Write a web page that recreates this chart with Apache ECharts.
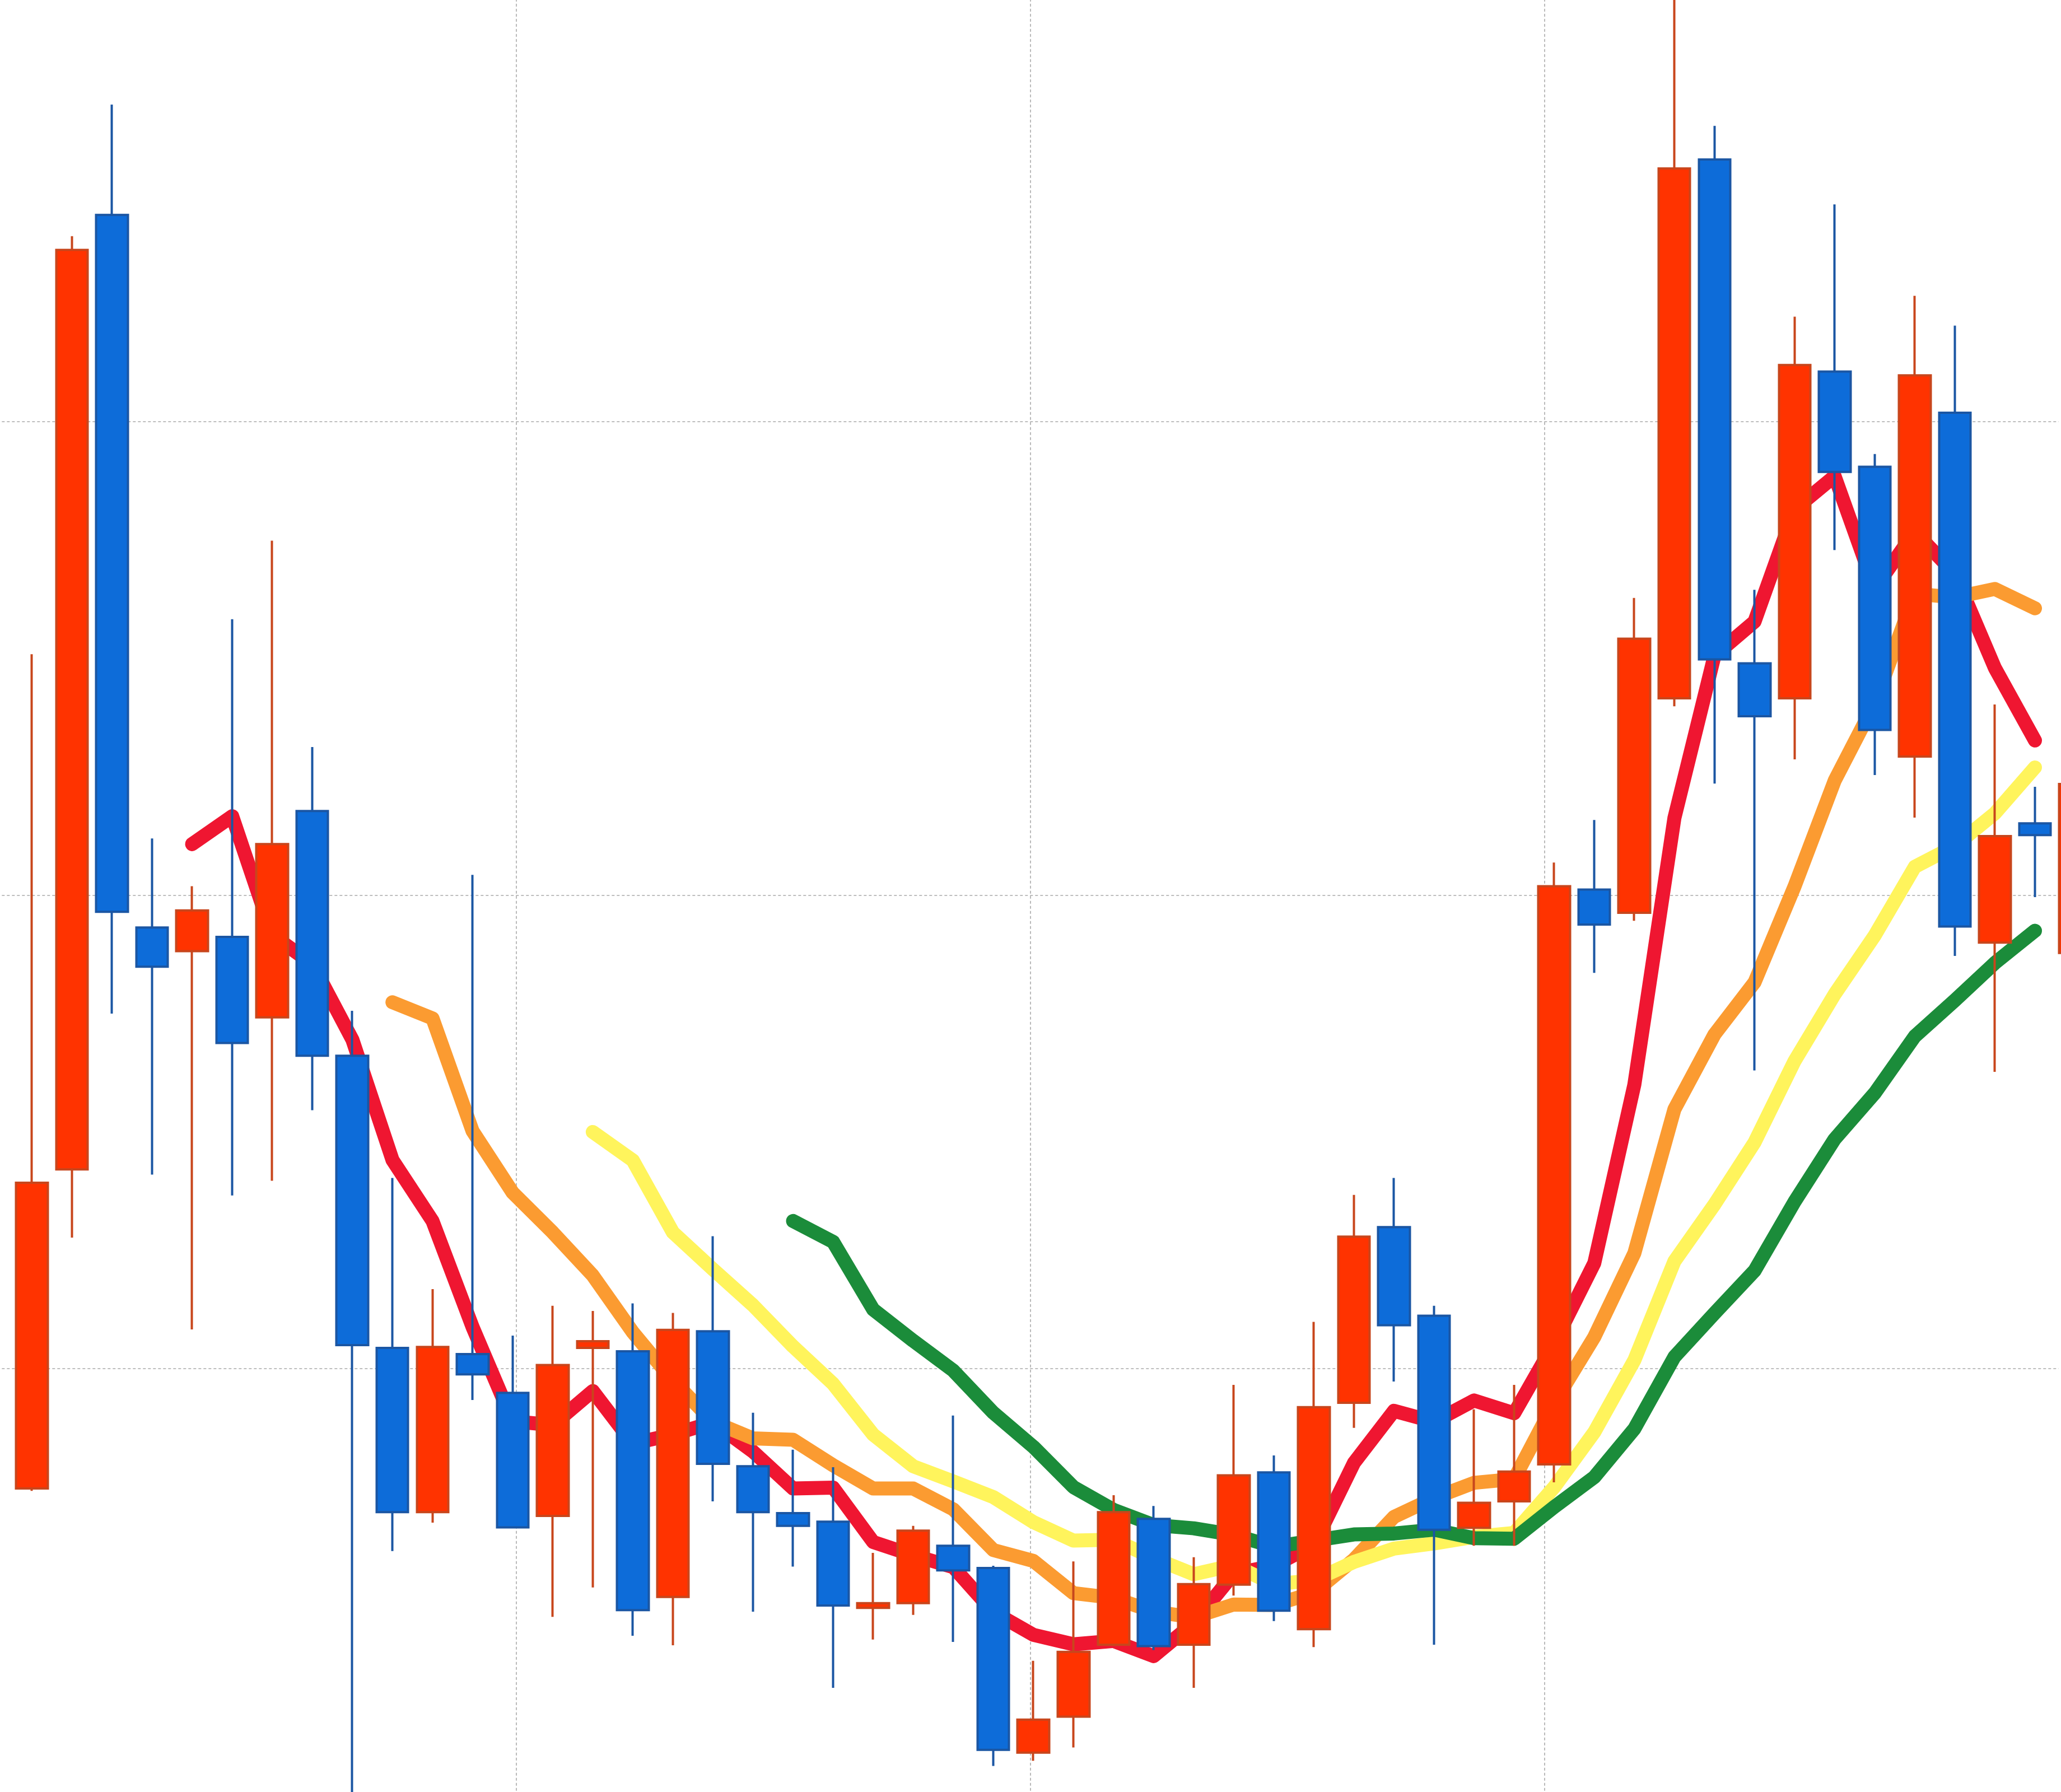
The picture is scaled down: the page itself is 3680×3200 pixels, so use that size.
<!DOCTYPE html>
<html>
<head>
<meta charset="utf-8">
<script src="https://cdn.jsdelivr.net/npm/echarts@6/dist/echarts.min.js"></script>
<style>
  html, body { margin: 0; padding: 0; background: #ffffff; overflow: hidden; width: 3680px; height: 3200px; position: relative; }
  #chart { position: absolute; left: 0px; top: -100px; width: 3800px; height: 3400px; }
</style>
</head>
<body>
<div id="chart"></div>
<script>
const categories = ['1','2','3','4','5','6','7','8','9','10','11','12','13','14','15','16','17','18','19','20','21','22','23','24','25','26','27','28','29','30','31','32','33','34','35','36','37','38','39','40','41','42','43','44','45','46','47','48','49','50','51','52'];

const opens  = [7.47,14.21,34.37,19.32,18.82,19.12,17.42,21.78,16.61,10.44,6.97,10.31,9.49,6.89,10.44,10.37,5.18,10.79,7.94,6.95,6.77,4.95,5.05,6.26,5.79,1.89,2.65,4.17,6.83,4.17,5.44,7.81,4.50,9.28,12.99,11.12,6.64,7.20,7.98,20.12,19.63,24.16,35.54,24.90,24.16,31.06,29.05,22.93,30.19,19.00,21.52,18.78];
const closes = [13.93,33.63,19.65,18.49,19.68,16.88,21.08,16.61,10.50,6.97,10.46,9.88,6.65,10.08,10.58,4.90,10.82,7.99,6.97,6.68,5.00,5.05,6.58,5.74,1.95,2.59,4.02,6.97,4.14,5.45,7.75,4.89,9.19,12.79,10.92,6.60,7.17,7.83,20.19,19.38,25.42,35.35,24.98,23.78,31.20,28.94,23.49,30.98,19.34,21.25,21.27,22.35];
const lows   = [7.42,12.77,17.50,14.10,10.83,13.66,13.97,15.46,0.59,6.15,6.75,9.34,6.63,4.76,5.38,4.36,4.16,7.20,4.87,5.82,3.26,4.28,4.80,4.23,1.61,1.72,2.00,4.14,4.06,3.26,5.21,4.67,4.12,8.75,9.73,4.17,6.26,6.26,7.60,18.36,19.46,23.99,22.36,16.30,22.87,27.29,22.54,21.64,18.72,16.27,19.96,18.60];
const highs  = [25.09,33.92,36.70,21.20,20.19,25.83,27.49,23.13,17.56,14.03,11.68,20.43,10.70,11.33,11.22,11.38,11.18,12.80,9.07,8.29,7.92,6.11,6.68,9.01,5.84,3.83,5.93,7.33,7.10,6.02,9.66,8.17,10.99,13.67,14.03,11.33,9.14,9.66,20.69,21.59,26.28,39.60,36.25,26.45,32.22,34.59,29.32,32.66,32.03,24.03,22.29,22.50];

const ma5  = ['-','-','-','-',21.08,21.67,19.16,18.55,16.95,14.41,13.12,10.88,8.89,8.81,9.53,8.42,8.61,8.87,8.25,7.47,7.49,6.34,6.06,5.81,4.86,4.38,4.18,4.25,3.93,4.63,5.67,5.84,6.28,8.01,9.11,8.88,9.33,9.06,10.54,12.23,16.00,21.63,25.06,25.78,28.15,28.85,26.48,27.68,26.79,24.80,23.27,'-'];
const ma10 = ['-','-','-','-','-','-','-','-','-',17.74,17.40,15.02,13.72,12.88,11.97,10.77,9.75,8.88,8.53,8.50,7.96,7.47,7.47,7.03,6.17,5.94,5.26,5.16,4.87,4.75,5.02,5.01,5.27,5.97,6.87,7.27,7.59,7.67,9.28,10.67,12.44,15.48,17.06,18.16,20.19,22.42,24.06,26.37,26.29,26.47,26.06,'-'];
const ma15 = ['-','-','-','-','-','-','-','-','-','-','-','-','-','-',15.00,14.40,12.88,12.10,11.34,10.47,9.68,8.61,7.94,7.62,7.29,6.76,6.37,6.39,6.00,5.66,5.85,5.45,5.53,5.92,6.20,6.31,6.45,6.53,7.50,8.66,10.18,12.27,13.47,14.78,16.50,17.91,19.15,20.60,21.04,21.73,22.70,'-'];
const ma20 = ['-','-','-','-','-','-','-','-','-','-','-','-','-','-','-','-','-','-','-',13.12,12.68,11.25,10.59,9.96,9.07,8.35,7.50,7.02,6.70,6.63,6.49,6.24,6.37,6.50,6.52,6.60,6.42,6.41,7.08,7.71,8.73,10.25,11.17,12.07,13.53,14.85,15.82,17.02,17.78,18.57,19.25,'-'];

const yTicks = [0, 10, 20, 30, 40];
const xTicks = [0, 1, 2, 3, 4];

const candleData = categories.map((c, i) => [opens[i], closes[i], lows[i], highs[i]]);

const chart = echarts.init(document.getElementById('chart'), null, { renderer: 'canvas' });

const gridLine = { show: true, lineStyle: { color: '#a9a9a9', width: 1.6, type: [5, 4] } };

function maSeries(name, data, color) {
  return {
    name: name,
    type: 'line',
    data: data,
    xAxisIndex: 0,
    yAxisIndex: 0,
    showSymbol: false,
    symbol: 'none',
    smooth: false,
    z: 2,
    lineStyle: { width: 25, color: color, cap: 'round', join: 'round', opacity: 1 },
    emphasis: { disabled: true }
  };
}

chart.setOption({
  animation: false,
  backgroundColor: '#ffffff',
  grid: [
    { left: 21.2, right: 59.2, top: 7.7, bottom: 10.35, containLabel: false },
    { left: 3.3, right: 124.3, top: 7.7, bottom: 10.35, containLabel: false }
  ],
  xAxis: [
    {
      type: 'category', data: categories, gridIndex: 0, boundaryGap: true,
      axisLine: { show: false }, axisTick: { show: false }, axisLabel: { show: false },
      splitLine: { show: false }
    },
    {
      type: 'value', gridIndex: 1, min: xTicks[0], max: xTicks[xTicks.length - 1], interval: 1,
      axisLine: { show: false }, axisTick: { show: false }, axisLabel: { show: false },
      splitLine: Object.assign({ showMinLine: false, showMaxLine: false }, gridLine)
    }
  ],
  yAxis: [
    {
      type: 'value', gridIndex: 0, min: yTicks[0], max: yTicks[yTicks.length - 1], interval: 10,
      axisLine: { show: false }, axisTick: { show: false }, axisLabel: { show: false },
      splitLine: { show: false }
    },
    {
      type: 'value', gridIndex: 1, min: yTicks[0], max: yTicks[yTicks.length - 1], interval: 10,
      axisLine: { show: false }, axisTick: { show: false }, axisLabel: { show: false },
      splitLine: Object.assign({ showMinLine: false, showMaxLine: false }, gridLine)
    }
  ],
  series: [
    maSeries('MA5', ma5, '#ef1631'),
    maSeries('MA10', ma10, '#fb9b31'),
    maSeries('MA15', ma15, '#fff45c'),
    maSeries('MA20', ma20, '#1b8c3a'),
    {
      name: 'K',
      type: 'candlestick',
      data: candleData,
      xAxisIndex: 0,
      yAxisIndex: 0,
      barWidth: 57,
      z: 5,
      itemStyle: {
        color: '#ff3300',
        color0: '#0d6cd9',
        borderColor: '#c8461c',
        borderColor0: '#1b56a3',
        borderWidth: 4
      },
      emphasis: { disabled: true }
    }
  ]
});
</script>
</body>
</html>
